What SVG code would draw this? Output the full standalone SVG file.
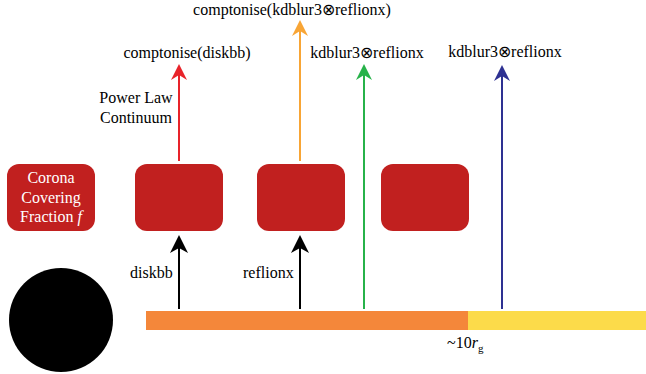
<svg xmlns="http://www.w3.org/2000/svg" width="646" height="374" viewBox="0 0 646 374">
<style>
text{font-family:"Liberation Serif","Times New Roman",serif;font-size:16px;fill:#000}
.wt{fill:#fff;text-anchor:middle}
.box{fill:#C1201F}
.ar{stroke-width:2;fill:none}
</style>
<defs>
<marker id="mk" viewBox="0 0 18 18" refX="12" refY="9" markerWidth="18" markerHeight="18" markerUnits="userSpaceOnUse" orient="auto"><path d="M0,0 L18,9 L0,18 L5,9 z" fill="#000"/></marker>
<marker id="mr" viewBox="0 0 16 16" refX="11" refY="8" markerWidth="16" markerHeight="16" markerUnits="userSpaceOnUse" orient="auto"><path d="M0,0 L16,8 L0,16 L5,8 z" fill="#E8232A"/></marker>
<marker id="mo" viewBox="0 0 16 16" refX="11" refY="8" markerWidth="16" markerHeight="16" markerUnits="userSpaceOnUse" orient="auto"><path d="M0,0 L16,8 L0,16 L5,8 z" fill="#F8A535"/></marker>
<marker id="mg" viewBox="0 0 16 16" refX="11" refY="8" markerWidth="16" markerHeight="16" markerUnits="userSpaceOnUse" orient="auto"><path d="M0,0 L16,8 L0,16 L5,8 z" fill="#27B24A"/></marker>
<marker id="mb" viewBox="0 0 16 16" refX="11" refY="8" markerWidth="16" markerHeight="16" markerUnits="userSpaceOnUse" orient="auto"><path d="M0,0 L16,8 L0,16 L5,8 z" fill="#2E3192"/></marker>
</defs>

<g id="blackhole"><circle cx="61" cy="320" r="52" fill="#000"/></g>

<g id="disk">
<rect x="146" y="311" width="322" height="19" fill="#F4873A"/>
<rect x="468" y="311" width="178" height="19" fill="#FCDB4A"/>
<text x="447" y="348">~10<tspan font-style="italic">r</tspan><tspan font-size="11" dy="4">g</tspan></text>
</g>

<g id="corona"><rect class="box" x="7" y="164" width="88" height="67" rx="12"/>
<text class="wt" x="51" y="183">Corona</text>
<text class="wt" x="51" y="203">Covering</text>
<text class="wt" x="51" y="222">Fraction <tspan font-style="italic">f</tspan></text>
</g>
<g id="box1"><rect class="box" x="135" y="164" width="88" height="67" rx="12"/></g>
<g id="box2"><rect class="box" x="257" y="164" width="88" height="67" rx="12"/></g>
<g id="box3"><rect class="box" x="381" y="164" width="88" height="67" rx="12"/></g>

<g id="connectors">
<line class="ar" x1="179" y1="309" x2="179" y2="241" stroke="#000" marker-end="url(#mk)"/>
<line class="ar" x1="300" y1="309" x2="300" y2="241" stroke="#000" marker-end="url(#mk)"/>
<line class="ar" x1="179" y1="161" x2="179" y2="69" stroke="#E8232A" marker-end="url(#mr)"/>
<line class="ar" x1="300" y1="161" x2="300" y2="25" stroke="#F8A535" marker-end="url(#mo)"/>
<line class="ar" x1="364" y1="309" x2="364" y2="69" stroke="#27B24A" marker-end="url(#mg)"/>
<line class="ar" x1="502" y1="309" x2="502" y2="70" stroke="#2E3192" marker-end="url(#mb)"/>
</g>

<g id="labels">
<text x="130" y="278">diskbb</text>
<text x="243" y="278">reflionx</text>
<text x="187" y="58" text-anchor="middle">comptonise(diskbb)</text>
<text x="292" y="15" text-anchor="middle">comptonise(kdblur3⊗reflionx)</text>
<text x="367" y="58" text-anchor="middle">kdblur3⊗reflionx</text>
<text x="505" y="57" text-anchor="middle">kdblur3⊗reflionx</text>
<text x="136" y="103" text-anchor="middle">Power Law</text>
<text x="136" y="123" text-anchor="middle">Continuum</text>
</g>
</svg>
